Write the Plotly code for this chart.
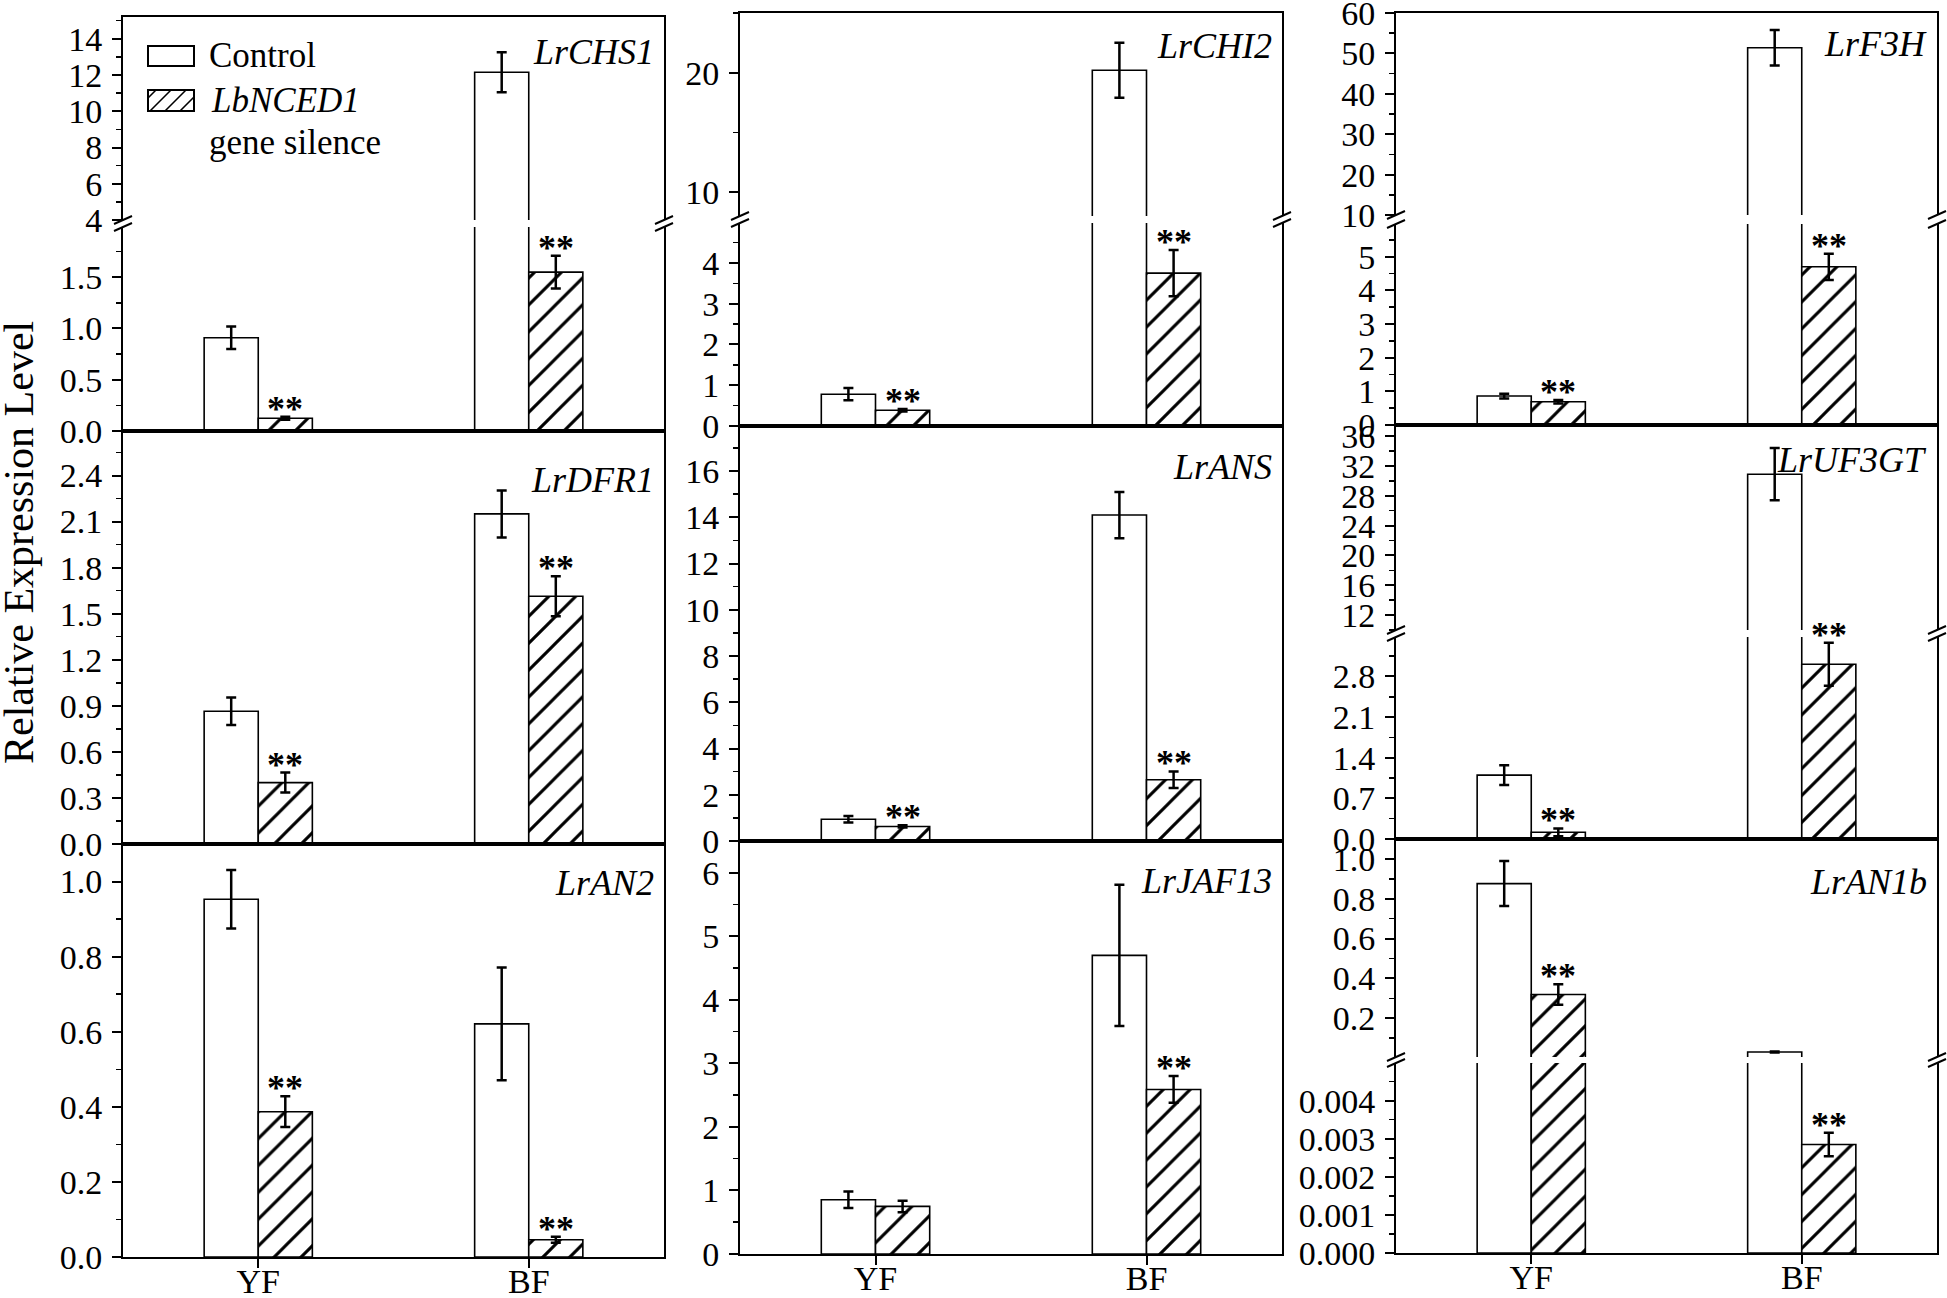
import plotly.graph_objects as go

# ---------------- data ----------------
genes = ["LrCHS1", "LrCHI2", "LrF3H", "LrDFR1", "LrANS", "LrUF3GT", "LrAN2", "LrJAF13", "LrAN1b"]
categories = ["YF", "BF"]
legend_control = "Control"
legend_silence = "<i>LbNCED1</i>"
legend_silence_2 = "gene silence"
y_title = "Relative Expression Level"

control_YF = [0.91, 0.78, 0.86, 0.865, 0.94, 1.10, 0.953, 0.853, 0.876]
control_YF_err = [0.11, 0.15, 0.07, 0.09, 0.14, 0.17, 0.078, 0.13, 0.113]
control_BF = [12.15, 20.2, 51.4, 2.15, 14.1, 30.9, 0.621, 4.70, 0.030]
control_BF_err = [1.1, 2.3, 4.4, 0.153, 1.0, 3.5, 0.15, 1.11, 0.002]

silence_YF = [0.125, 0.385, 0.69, 0.40, 0.63, 0.115, 0.387, 0.749, 0.319]
silence_YF_err = [0.015, 0.03, 0.05, 0.065, 0.05, 0.066, 0.041, 0.09, 0.051]
silence_BF = [1.55, 3.75, 4.70, 1.614, 2.65, 3.01, 0.046, 2.59, 0.00285]
silence_BF_err = [0.16, 0.57, 0.39, 0.13, 0.36, 0.37, 0.008, 0.21, 0.00031]

signif_YF = [True, True, True, True, True, True, True, False, True]
signif_BF = [True, True, True, True, True, True, True, True, True]

# axis scales (lower / single segment, and upper segment of broken axes)
lower_range = [[0, 1.99], [0, 4.98], [0, 5.97], [0, 2.69], [0, 17.95], [0, 3.48], [0, 1.1], [0, 6.5], [0, 0.00499]]
lower_dtick = [0.5, 1, 1, 0.3, 2, 0.7, 0.2, 1, 0.001]
lower_format = [".1f", "d", "d", ".1f", "d", ".1f", ".1f", "d", ".3f"]
upper_range = [[4, 15.2], [8, 25], [10, 60], None, None, [10, 37.5], None, None, [0.005, 1.1]]
upper_dtick = [2, 10, 10, None, None, 4, None, None, 0.2]
upper_format = ["d", "d", "d", None, None, "d", None, None, ".1f"]

# ---------------- layout geometry (reference pixels) ----------------
W, H = 1947, 1298
FONT = "Liberation Serif"
col_x = [(123, 664), (740, 1282), (1396, 1937)]
col_rows = [
    [(17, 431), (431, 844), (844, 1257)],
    [(13, 426), (426, 841), (841, 1254)],
    [(13, 425), (425, 839), (839, 1253)],
]
# (upper segment bottom, lower segment top) for broken panels
break_px = {0: (220, 227), 1: (216, 223), 2: (215, 224), 5: (630, 637), 8: (1057, 1063)}
label_offset = [35, 33, 31, 49, 41, 35, 39, 40, 43]


def px(x):
    return x / W


def py(y):
    return 1 - y / H


fig = go.Figure()
layout_axes = {}
annotations = []
shapes = []
xs = [i + 1 for i in range(len(categories))]

axis_idx = 0


def seg_values(vals, errs, yr, kind):
    """Hide bars that lie completely below an upper segment."""
    if kind != "upper":
        return vals, errs
    v2, e2 = [], []
    for v, e in zip(vals, errs):
        if v <= yr[0]:
            v2.append(None)
            e2.append(None)
        else:
            v2.append(v)
            e2.append(e)
    return v2, e2


def add_segment(i, yr, dtick, fmt, top_px, bot_px, kind, show_xlabels):
    global axis_idx
    axis_idx += 1
    k = axis_idx
    sfx = "" if k == 1 else str(k)
    c = i % 3
    x0, x1 = col_x[c]
    cv, ce = seg_values([control_YF[i], control_BF[i]], [control_YF_err[i], control_BF_err[i]], yr, kind)
    sv, se = seg_values([silence_YF[i], silence_BF[i]], [silence_YF_err[i], silence_BF_err[i]], yr, kind)
    fig.add_trace(go.Bar(
        x=xs, y=cv,
        error_y=dict(type="data", array=ce, color="black", thickness=2.5, width=5),
        marker=dict(color="white", line=dict(color="black", width=1.6)),
        xaxis="x" + sfx, yaxis="y" + sfx, showlegend=False, name=legend_control))
    fig.add_trace(go.Bar(
        x=xs, y=sv,
        error_y=dict(type="data", array=se, color="black", thickness=2.5, width=5),
        marker=dict(color="white", line=dict(color="black", width=1.6),
                    pattern=dict(shape="/", fgcolor="black", bgcolor="white",
                                 size=19, solidity=0.16)),
        xaxis="x" + sfx, yaxis="y" + sfx, showlegend=False, name="LbNCED1 gene silence"))
    xa = dict(domain=[px(x0), px(x1)], range=[0.5, 2.5], tickvals=xs, ticktext=categories,
              showline=True, linecolor="black", linewidth=2, showgrid=False, zeroline=False,
              anchor="y" + sfx, fixedrange=True, automargin=False,
              tickfont=dict(family=FONT, size=34, color="black"))
    if kind == "upper":
        xa.update(side="top", mirror=False, showticklabels=False, ticks="")
    elif kind == "lower":
        xa.update(side="bottom", mirror=False)
    else:
        xa.update(mirror=True)
    if show_xlabels:
        xa.update(showticklabels=True, ticks="outside", ticklen=9, tickwidth=2, tickcolor="black",
                  ticklabelstandoff=-16, ticklabeloverflow="allow")
    elif kind != "upper":
        xa.update(showticklabels=False, ticks="")
    ya = dict(domain=[py(bot_px), py(top_px)], range=yr, tick0=0, dtick=dtick, tickformat=fmt,
              showline=True, linecolor="black", linewidth=2, mirror=True,
              ticks="outside", ticklen=9, tickwidth=2, tickcolor="black",
              minor=dict(tick0=0, dtick=dtick / 2, ticks="outside", ticklen=5, tickwidth=1.5,
                         tickcolor="black"),
              showgrid=False, zeroline=False, anchor="x" + sfx, fixedrange=True,
              automargin=False, ticklabelstandoff=3, ticklabeloverflow="allow",
              tickfont=dict(family=FONT, size=34, color="black"))
    layout_axes["xaxis" + sfx] = xa
    layout_axes["yaxis" + sfx] = ya
    return sfx


for i, g in enumerate(genes):
    c = i % 3
    r = i // 3
    top, bot = col_rows[c][r]
    x0, x1 = col_x[c]
    bottom_row = r == 2
    if upper_range[i] is None:
        lo = add_segment(i, lower_range[i], lower_dtick[i], lower_format[i], top, bot, "full", bottom_row)
        up = None
    else:
        ub, lt = break_px[i]
        up = add_segment(i, upper_range[i], upper_dtick[i], upper_format[i], top, ub, "upper", False)
        lo = add_segment(i, lower_range[i], lower_dtick[i], lower_format[i], lt, bot, "lower", bottom_row)
        # break marks on both vertical axes
        for ax_x in (x0, x1):
            for yc in (ub, lt):
                shapes.append(dict(type="line", xref="paper", yref="paper",
                                   x0=px(ax_x - 9), y0=py(yc + 4), x1=px(ax_x + 9), y1=py(yc - 4),
                                   line=dict(color="black", width=2)))
    # gene label
    annotations.append(dict(text="<i>%s</i>" % g, xref="paper", yref="paper",
                            x=px(x1 - 8), y=py(top + label_offset[i]), xanchor="right",
                            yanchor="middle", showarrow=False,
                            font=dict(family=FONT, size=36, color="black")))
    # significance stars above silenced bars
    for j, (val, err, sig) in enumerate([(silence_YF[i], silence_YF_err[i], signif_YF[i]),
                                         (silence_BF[i], silence_BF_err[i], signif_BF[i])]):
        if not sig:
            continue
        ytop = val + err
        sfx = lo
        if up is not None and ytop > lower_range[i][1]:
            sfx = up
        annotations.append(dict(text="<b>**</b>", xref="x" + sfx, yref="y" + sfx,
                                x=xs[j] + 0.1, y=ytop, xanchor="center", yanchor="bottom",
                                yshift=-14, showarrow=False,
                                font=dict(family=FONT, size=36, color="black")))

# y-axis title
annotations.append(dict(text=y_title, xref="paper", yref="paper", x=px(19), y=py(543),
                        xanchor="center", yanchor="middle", textangle=-90, showarrow=False,
                        font=dict(family=FONT, size=42, color="black")))

# legend (drawn in the first panel)
shapes.append(dict(type="rect", xref="paper", yref="paper", x0=px(148), x1=px(194),
                   y0=py(66), y1=py(46), line=dict(color="black", width=2), fillcolor="white"))
shapes.append(dict(type="rect", xref="paper", yref="paper", x0=px(148), x1=px(194),
                   y0=py(111), y1=py(90), line=dict(color="black", width=2), fillcolor="white"))
for (ax0, ay0, ax1, ay1) in [(148, 98, 156, 90), (150, 111, 171, 90), (165, 111, 186, 90), (180, 111, 194, 97)]:
    shapes.append(dict(type="line", xref="paper", yref="paper", x0=px(ax0), y0=py(ay0),
                       x1=px(ax1), y1=py(ay1), line=dict(color="black", width=1.6)))
annotations.append(dict(text=legend_control, xref="paper", yref="paper", x=px(207), y=py(55),
                        xanchor="left", yanchor="middle", showarrow=False,
                        font=dict(family=FONT, size=35, color="black")))
annotations.append(dict(text=legend_silence, xref="paper", yref="paper", x=px(209), y=py(100),
                        xanchor="left", yanchor="middle", showarrow=False,
                        font=dict(family=FONT, size=35, color="black")))
annotations.append(dict(text=legend_silence_2, xref="paper", yref="paper", x=px(207), y=py(142),
                        xanchor="left", yanchor="middle", showarrow=False,
                        font=dict(family=FONT, size=35, color="black")))

fig.update_layout(
    template="none",
    width=W, height=H,
    margin=dict(l=0, r=0, t=0, b=0, autoexpand=False),
    paper_bgcolor="white", plot_bgcolor="white",
    barmode="group", bargap=0.6, bargroupgap=0,
    showlegend=False,
    font=dict(family=FONT, color="black"),
    annotations=annotations, shapes=shapes,
    **layout_axes,
)

fig.write_html(
    "out.html",
    config={"displayModeBar": False, "staticPlot": True},
    post_script="document.body.style.margin='0px';document.body.style.overflow='hidden';",
)
